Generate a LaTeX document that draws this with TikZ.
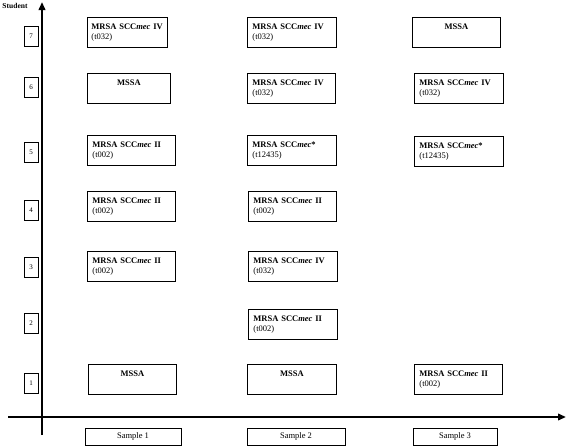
\documentclass[tikz,border=0pt]{standalone}
\usepackage{fontspec}
\setmainfont{Liberation Serif}
\usetikzlibrary{arrows.meta}
\begin{document}
\begin{tikzpicture}[x=1pt,y=-1pt,
  cell/.style={draw, line width=0.9pt, inner xsep=5pt, inner ysep=0pt, anchor=north west,
    minimum height=30pt, font=\fontsize{8.5}{10.5}\selectfont, align=left},
  msa/.style={cell, align=center},
  nbox/.style={draw, line width=0.7pt, minimum width=14pt, minimum height=20pt, inner sep=0pt,
    font=\fontsize{7}{8}\selectfont},
  sbox/.style={draw, line width=0.7pt, minimum height=17pt, inner sep=0pt,
    font=\fontsize{8.5}{10}\selectfont},
  axis/.style={line width=2.2pt, -{Triangle[length=8pt,width=6.5pt]}}]
\useasboundingbox (0,0) rectangle (567,447);
% axes
\coordinate (ybot) at (42,435);
\coordinate (ytop) at (42,2);
\coordinate (xl) at (8,417);
\coordinate (xr) at (566,417);
\draw[axis] (ybot) -- (ytop);
\draw[axis] (xl) -- (xr);
\node[font=\bfseries\fontsize{7.5}{8}\selectfont, inner sep=0pt] (student) at (15,6) {Student};
% student numbers
\node[nbox] (n7) at (31,36) {7};
\node[nbox] (n6) at (31,87) {6};
\node[nbox] (n5) at (31,152) {5};
\node[nbox] (n4) at (31,210) {4};
\node[nbox] (n3) at (31,267) {3};
\node[nbox] (n2) at (31,323) {2};
\node[nbox] (n1) at (31,383) {1};
% sample labels
\node[sbox, minimum width=96pt] (s1) at (133,436.5) {Sample 1};
\node[sbox, minimum width=98pt] (s2) at (296,436.5) {Sample 2};
\node[sbox, minimum width=84pt] (s3) at (455,436.5) {Sample 3};
% column 1
\node[cell, inner xsep=4pt, text width=72pt] (c17) at (87,17) {\textbf{MRSA SCC\textit{mec} IV}\\(t032)};
\node[msa, text width=73pt] (c16) at (87,73) {\textbf{MSSA}\\\phantom{(t032)}};
\node[cell, text width=78pt] (c15) at (87,135) {\textbf{MRSA SCC\textit{mec} II}\\(t002)};
\node[cell, text width=78pt] (c14) at (87,191) {\textbf{MRSA SCC\textit{mec} II}\\(t002)};
\node[cell, text width=78pt] (c13) at (87,251) {\textbf{MRSA SCC\textit{mec} II}\\(t002)};
\node[msa, text width=78pt] (c11) at (88,364) {\textbf{MSSA}\\\phantom{(t032)}};
% column 2
\node[cell, text width=79pt] (c27) at (247,17) {\textbf{MRSA SCC\textit{mec} IV}\\(t032)};
\node[cell, text width=78pt] (c26) at (247,73) {\textbf{MRSA SCC\textit{mec} IV}\\(t032)};
\node[cell, text width=79pt] (c25) at (247,135) {\textbf{MRSA SCC\textit{mec}*}\\(t12435)};
\node[cell, text width=78pt] (c24) at (248,191) {\textbf{MRSA SCC\textit{mec} II}\\(t002)};
\node[cell, text width=79pt] (c23) at (248,251) {\textbf{MRSA SCC\textit{mec} IV}\\(t032)};
\node[cell, text width=79pt] (c22) at (248,309) {\textbf{MRSA SCC\textit{mec} II}\\(t002)};
\node[msa, text width=79pt] (c21) at (247,364) {\textbf{MSSA}\\\phantom{(t032)}};
% column 3
\node[msa, text width=78pt] (c37) at (412,17) {\textbf{MSSA}\\\phantom{(t032)}};
\node[cell, text width=79pt] (c36) at (414,73) {\textbf{MRSA SCC\textit{mec} IV}\\(t032)};
\node[cell, text width=79pt] (c35) at (414,136) {\textbf{MRSA SCC\textit{mec}*}\\(t12435)};
\node[cell, text width=78pt] (c31) at (414,364) {\textbf{MRSA SCC\textit{mec} II}\\(t002)};
\end{tikzpicture}
\end{document}
